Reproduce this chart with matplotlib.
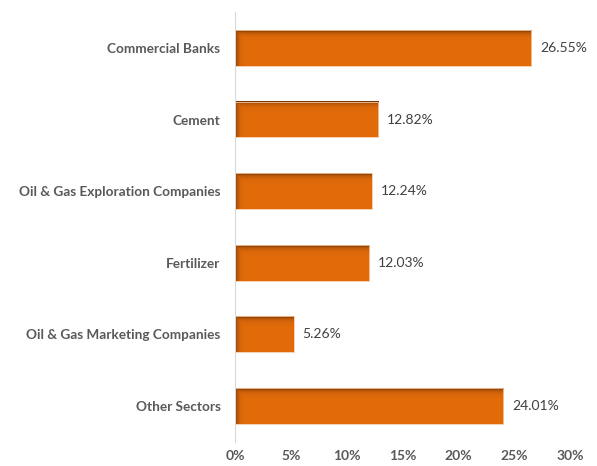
import matplotlib
matplotlib.use("Agg")
import numpy as np
from matplotlib import pyplot as plt
from matplotlib.colors import to_rgb

plt.rcParams['font.family'] = ['Lato', 'DejaVu Sans']

sectors = ['Commercial Banks', 'Cement', 'Oil & Gas Exploration Companies',
           'Fertilizer', 'Oil & Gas Marketing Companies', 'Other Sectors']
shares = [26.55, 12.82, 12.24, 12.03, 5.26, 24.01]
xticks = [0, 5, 10, 15, 20, 25, 30]

fig = plt.figure(figsize=(5.97, 4.66), dpi=100)
ax = fig.add_axes([0.3936, 0.052, 0.5612, 0.922])

base = np.array(to_rgb('#e36c0a'))
dark = np.array(to_rgb('#6e3205'))
h = 0.5


def shaded_bar(yi, v):
    # orange fill that darkens towards the top and left edges
    nx, ny = 400, 60
    xs = np.linspace(0, v, nx)
    ys = np.linspace(0, h, ny)
    fx = np.exp(-xs / 0.22)
    fy = np.exp(-ys / 0.035)
    f = np.maximum(fx[None, :], fy[:, None])[..., None]
    img = base * (1 - f) + dark * f
    ax.imshow(img, extent=(0, v, yi + h / 2, yi - h / 2), origin='upper',
              aspect='auto', interpolation='bilinear', zorder=3)
    ax.add_patch(plt.Rectangle((0, yi - h / 2), v, h, fill=False,
                               edgecolor='#f6c9a0', linewidth=0.6, zorder=4))


for yi, v in enumerate(shares):
    shaded_bar(yi, v)
    ax.text(v + 0.8, yi, f'{v:.2f}%', va='center', ha='left',
            fontsize=10, color='#404040')

ax.set_ylim(len(sectors) - 0.5, -0.5)
ax.set_xlim(0, 30)
ax.set_yticks(range(len(sectors)))
ax.set_yticklabels(sectors, fontsize=9.8, fontweight='bold', color='#595959')
ax.set_xticks(xticks)
ax.set_xticklabels([f'{t}%' for t in xticks], fontsize=10,
                   fontweight='bold', color='#595959')
ax.tick_params(axis='x', length=0, pad=6)
ax.tick_params(axis='y', length=0, pad=10.5)
for s in ['top', 'right', 'bottom']:
    ax.spines[s].set_visible(False)
ax.spines['left'].set_color('#d9d9d9')
ax.spines['left'].set_zorder(5)

fig.savefig('out.png', dpi=100)
